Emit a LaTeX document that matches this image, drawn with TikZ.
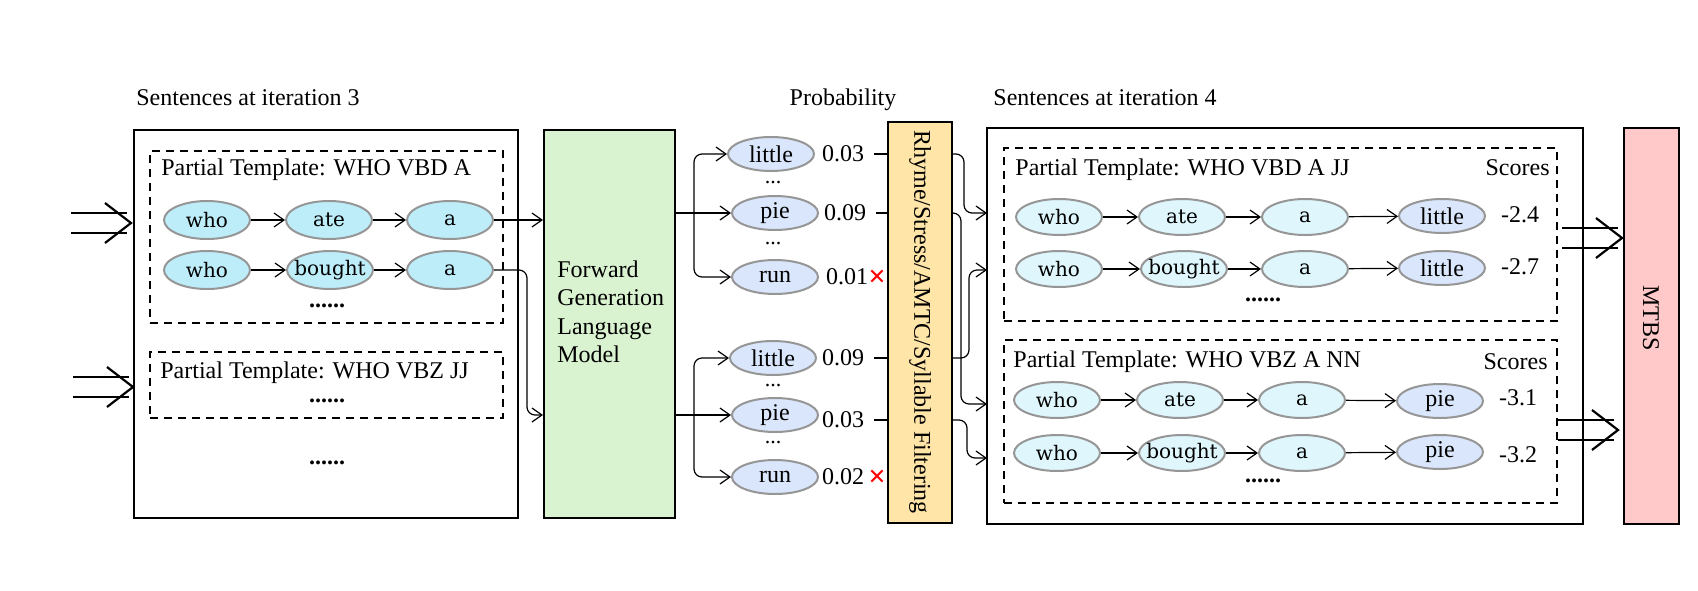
\documentclass[tikz,border=0pt]{standalone}
\usepackage{fontspec}
\setmainfont{Liberation Serif}
\newfontfamily\ellfont{DejaVu Serif}
\newfontfamily\symfont{DejaVu Sans}
\usetikzlibrary{arrows.meta,shapes.geometric,fit}
\definecolor{cyanA}{RGB}{190,237,250}
\definecolor{cyanB}{RGB}{222,246,252}
\definecolor{lav}{RGB}{218,230,251}
\definecolor{fgreen}{RGB}{217,242,208}
\definecolor{forange}{RGB}{255,229,168}
\definecolor{fpink}{RGB}{255,201,201}
\definecolor{ellgray}{RGB}{150,150,150}
\newcommand\ET[1]{\makebox[0pt]{#1}}
\newcommand\dblarr[2]{%
  \draw[bl] (#1-60,#2-10) -- (#1-4,#2-10);
  \draw[bl] (#1-60,#2+10) -- (#1-4,#2+10);
  \draw[bl] (#1-26,#2-20) -- (#1,#2) -- (#1-26,#2+20);}
\tikzset{
  txt/.style={inner sep=0pt, font=\fontsize{12}{14.25}\selectfont},
  ell/.style={ellipse, draw=ellgray, line width=1pt, minimum width=43pt, minimum height=18pt, inner sep=0pt},
  wA/.style={ell, fill=cyanA, minimum height=19pt, font=\ellfont\fontsize{10}{11}\selectfont},
  wB/.style={ell, fill=cyanB, font=\ellfont\fontsize{10}{11}\selectfont},
  wC/.style={ell, fill=lav, minimum height=17pt, font=\fontsize{12}{14}\selectfont},
  arr/.style={-{Straight Barb[length=5pt,width=7pt]}, line width=0.6pt},
  rc/.style={rounded corners=4pt},
  obox/.style={draw, line width=1pt, inner sep=0pt},
  dbox/.style={draw, line width=1pt, dash pattern=on 4pt off 3pt, inner sep=0pt},
  bl/.style={line width=1.1pt},
  dots/.style={inner sep=0pt, font=\fontsize{11}{12}\selectfont},
  bdots/.style={inner sep=0pt, font=\bfseries\fontsize{12}{14}\selectfont},
}
\begin{document}
\begin{tikzpicture}[x=0.5pt,y=-0.5pt]
\fill[white] (0,0) rectangle (1698,590);

% titles
\node[txt, anchor=west] (t3) at (136,98) {Sentences at iteration 3};
\node[txt, anchor=west] (t4) at (993,98) {Sentences at iteration 4};
\node[txt] (tp) at (843,100) {Probability};

% ---------- iteration 3 ----------
\node[obox, fit={(134,130) (518,518)}] (box3) {};
\node[dbox, fit={(150,151) (503,323)}] (dA) {};
\node[txt, anchor=west] (tA) at (161,170) {Partial Template: WHO VBD A};
\node[wA] (a11) at (207,220) {\ET{who}};
\node[wA] (a12) at (329,220) {\ET{ate}};
\node[wA] (a13) at (450,220) {\ET{a}};
\node[wA] (a21) at (207,270) {\ET{who}};
\node[wA] (a22) at (330,270) {\ET{bought}};
\node[wA] (a23) at (450,270) {\ET{a}};
\node[bdots] (dA1) at (327,306) {......};
\draw[arr] (a11) -- (a12); \draw[arr] (a12) -- (a13);
\draw[arr] (a21) -- (a22); \draw[arr] (a22) -- (a23);

\node[dbox, fit={(150,352) (503,418)}] (dB) {};
\node[txt, anchor=west] (tB) at (160,373) {Partial Template: WHO VBZ JJ};
\node[bdots] (dB1) at (327,401) {......};
\node[bdots] (d31) at (327,463) {......};

\dblarr{131}{223}
\dblarr{133}{387}

% ---------- language model ----------
\node[obox, fill=fgreen, fit={(544,130) (675,518)}] (fglm) {};
\node[txt, anchor=west, align=left] (fglmt) at (557,312) {Forward\\Generation\\Language\\Model};

% ---------- candidates ----------
\node[wC] (l1) at (771,154) {\ET{little}};
\node[wC] (p1) at (775,213) {\ET{pie}};
\node[wC] (r1) at (775,277) {\ET{run}};
\node[wC] (l2) at (773,358) {\ET{little}};
\node[wC] (p2) at (775,415) {\ET{pie}};
\node[wC] (r2) at (775,477) {\ET{run}};
\node[dots] at (773,183) {...};
\node[dots] at (773,244) {...};
\node[dots] at (773,386) {...};
\node[dots] at (773,443) {...};

\node[txt] (q1) at (843,154) {0.03};
\node[txt] (q2) at (845,213) {0.09};
\node[txt] (q3) at (847,277) {0.01};
\node[txt] (q4) at (843,358) {0.09};
\node[txt] (q5) at (843,420) {0.03};
\node[txt] (q6) at (843,477) {0.02};
\node[inner sep=0pt, text=red, font=\symfont\fontsize{11}{12}\selectfont] (x1) at (877,277) {✕};
\node[inner sep=0pt, text=red, font=\symfont\fontsize{11}{12}\selectfont] (x2) at (877,477) {✕};

% connectors into the LM
\draw[arr] (a13) -- (a13 -| fglm.west);
\draw[arr, rc] (a23.east) -- (527,270) -- (527,415) -- (p2 -| fglm.west);

% forks out of the LM
\coordinate (fk1) at (694,213);
\coordinate (fk2) at (694,415);
\draw[line width=0.6pt] (fglm.east |- fk1) -- (fk1);
\draw[arr, rc] (fk1) |- (l1.west);
\draw[arr] (fk1) -- (p1.west);
\draw[arr, rc] (fk1) |- (r1.west);
\draw[line width=0.6pt] (fglm.east |- fk2) -- (fk2);
\draw[arr, rc] (fk2) |- (l2.west);
\draw[arr] (fk2) -- (p2.west);
\draw[arr, rc] (fk2) |- (r2.west);

% ---------- filter ----------
\node[obox, fill=forange, fit={(888,122) (952,523)}] (filt) {};
\node[txt, rotate=-90] (filtt) at (920,322) {Rhyme/Stress/AMTC/Syllable Filtering};
\draw[line width=0.6pt, shorten <=5pt] (q1.east) -- (q1 -| filt.west);
\draw[line width=0.6pt, shorten <=5pt] (q2.east) -- (q2 -| filt.west);
\draw[line width=0.6pt, shorten <=5pt] (q4.east) -- (q4 -| filt.west);
\draw[line width=0.6pt, shorten <=5pt] (q5.east) -- (q5 -| filt.west);

% ---------- iteration 4 ----------
\node[obox, fit={(987,128) (1583,524)}] (box4) {};
\coordinate (e1) at (987,213);
\coordinate (e2) at (987,404);
\coordinate (e3) at (987,270);
\coordinate (e4) at (987,458);
\draw[arr, rc] (q1 -| filt.east) -- (964,154) -- (964,213) -- (e1);
\draw[arr, rc] (q2 -| filt.east) -- (961,213) -- (961,404) -- (e2);
\draw[arr, rc] (q4 -| filt.east) -- (969,358) -- (969,270) -- (e3);
\draw[arr, rc] (q5 -| filt.east) -- (967,420) -- (967,458) -- (e4);

\node[dbox, fit={(1004,148) (1557,321)}] (dC) {};
\node[txt, anchor=west] (tC) at (1015,170) {Partial Template: WHO VBD A JJ};
\node[txt, anchor=east] (sC) at (1550,168) {Scores};
\node[wB] (b11) at (1059,217) {\ET{who}};
\node[wB] (b12) at (1182,217) {\ET{ate}};
\node[wB] (b13) at (1305,217) {\ET{a}};
\node[wC] (b14) at (1442,216) {\ET{little}};
\node[wB] (b21) at (1059,269) {\ET{who}};
\node[wB] (b22) at (1184,269) {\ET{bought}};
\node[wB] (b23) at (1305,269) {\ET{a}};
\node[wC] (b24) at (1442,268) {\ET{little}};
\node[txt] (sC1) at (1520,215) {-2.4};
\node[txt] (sC2) at (1520,267) {-2.7};
\node[bdots] (dC1) at (1263,300) {......};
\draw[arr] (b11) -- (b12); \draw[arr] (b12) -- (b13); \draw[arr] (b13) -- (b14);
\draw[arr] (b21) -- (b22); \draw[arr] (b22) -- (b23); \draw[arr] (b23) -- (b24);

\node[dbox, fit={(1004,340) (1557,503)}] (dD) {};
\node[txt, anchor=west] (tD) at (1013,362) {Partial Template: WHO VBZ A NN};
\node[txt, anchor=east] (sD) at (1548,362) {Scores};
\node[wB] (c11) at (1057,400) {\ET{who}};
\node[wB] (c12) at (1180,400) {\ET{ate}};
\node[wB] (c13) at (1302,400) {\ET{a}};
\node[wC] (c14) at (1440,401) {\ET{pie}};
\node[wB] (c21) at (1057,453) {\ET{who}};
\node[wB] (c22) at (1182,453) {\ET{bought}};
\node[wB] (c23) at (1302,453) {\ET{a}};
\node[wC] (c24) at (1440,452) {\ET{pie}};
\node[txt] (sD1) at (1518,398) {-3.1};
\node[txt] (sD2) at (1518,455) {-3.2};
\node[bdots] (dD1) at (1263,481) {......};
\draw[arr] (c11) -- (c12); \draw[arr] (c12) -- (c13); \draw[arr] (c13) -- (c14);
\draw[arr] (c21) -- (c22); \draw[arr] (c22) -- (c23); \draw[arr] (c23) -- (c24);

% ---------- MTBS ----------
\node[obox, fill=fpink, fit={(1624,128) (1679,524)}] (mtbs) {};
\node[txt, rotate=-90] (mtbst) at (1651,318) {MTBS};
\dblarr{1622}{238}
\dblarr{1618}{430}
\end{tikzpicture}
\end{document}
